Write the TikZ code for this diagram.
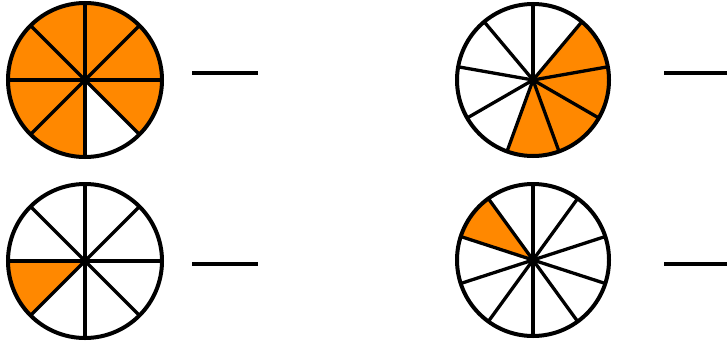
\documentclass[tikz,border=0pt]{standalone}
\definecolor{pieorange}{RGB}{255,136,0}
\begin{document}
\begin{tikzpicture}[x=1pt,y=1pt,
  rim/.style={line width=4pt},
  spoke/.style={line width=3.3pt},
  dashline/.style={line width=4pt}]
\useasboundingbox (0,0) rectangle (727,341);
% top-left: 8 parts, 7 shaded
\coordinate (c1) at (85,261);
\fill[pieorange] (c1) circle (77);
\fill[white] (c1) -- ++(-90:77) arc (-90:-45:77) -- cycle;
\foreach \a in {0,45,...,315} \draw[spoke] (c1) -- ++(\a:77);
\draw[rim] (c1) circle (77);
\fill (c1) circle (3.5);
% bottom-left: 8 parts, 1 shaded
\coordinate (c2) at (85,80);
\fill[pieorange] (c2) -- ++(180:77) arc (180:225:77) -- cycle;
\foreach \a in {0,45,...,315} \draw[spoke] (c2) -- ++(\a:77);
\draw[rim] (c2) circle (77);
\fill (c2) circle (3.5);
% top-right: 9 parts, 4 shaded
\coordinate (c3) at (533,261);
\fill[pieorange] (c3) -- ++(50:76) arc (50:-110:76) -- cycle;
\foreach \a in {90,130,...,410} \draw[spoke] (c3) -- ++(\a:76);
\draw[rim] (c3) circle (76);
\fill (c3) circle (3.5);
% bottom-right: 10 parts, 1 shaded
\coordinate (c4) at (533,81);
\fill[pieorange] (c4) -- ++(126:76) arc (126:162:76) -- cycle;
\foreach \a in {90,126,...,414} \draw[spoke] (c4) -- ++(\a:76);
\draw[rim] (c4) circle (76);
\fill (c4) circle (3.5);
% answer dashes
\coordinate (d1a) at (192,268); \coordinate (d1b) at (258,268);
\coordinate (d2a) at (192,77);  \coordinate (d2b) at (258,77);
\coordinate (d3a) at (664,268); \coordinate (d3b) at (727,268);
\coordinate (d4a) at (664,77);  \coordinate (d4b) at (727,77);
\draw[dashline] (d1a) -- (d1b);
\draw[dashline] (d2a) -- (d2b);
\draw[dashline] (d3a) -- (d3b);
\draw[dashline] (d4a) -- (d4b);
\end{tikzpicture}
\end{document}
